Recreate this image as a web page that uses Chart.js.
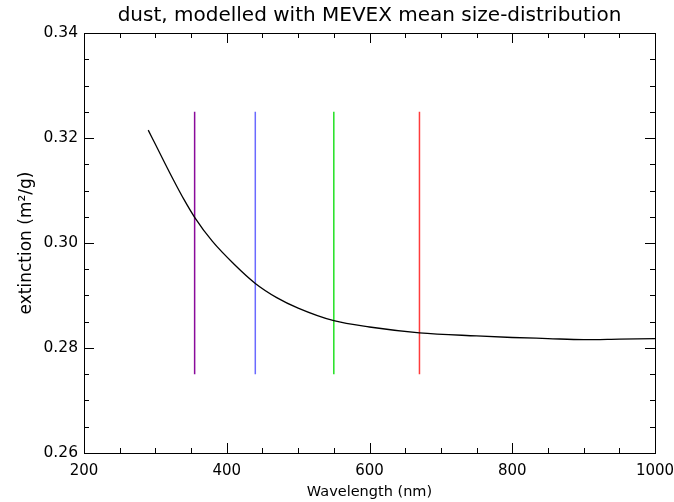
<!DOCTYPE html>
<html>
<head>
<meta charset="utf-8">
<script src="https://cdn.jsdelivr.net/npm/chart.js@4.4.0/dist/chart.umd.min.js"></script>
<style>
  html, body { margin: 0; padding: 0; background: #fff; }
  #wrap { width: 674px; height: 502px; }
</style>
</head>
<body>
<div id="wrap"><canvas id="extChart" width="674" height="502"></canvas></div>
<script>
// ---- data ----
const wavelengths = [290, 300, 310, 325, 340, 355, 380, 410, 440, 470, 500, 550, 600, 670, 750, 800, 850, 900, 950, 1000];
const extinction  = [0.3215, 0.3188, 0.3161, 0.3121, 0.3083, 0.3049, 0.3003, 0.2960, 0.2923, 0.2896, 0.2876, 0.2852, 0.2840, 0.2829, 0.2823, 0.2820, 0.2818, 0.2816, 0.2817, 0.2818];

const markerWavelengths = [355, 440, 550, 670];
const markerColors = ['#8a0a9a', '#6a6aff', '#22e022', '#ff3c3c'];
const markerRange = [0.275, 0.325];

const xTicks = [200, 400, 600, 800, 1000];
const yTicks = [0.26, 0.28, 0.30, 0.32, 0.34];

const FONT = 'DejaVu Sans';

// inward ticks on all four sides + frame
const frameTicks = {
    id: 'frameTicks',
    afterDraw(chart) {
        const { ctx, chartArea: a, scales: { x, y } } = chart;
        ctx.save();
        ctx.strokeStyle = '#000';
        ctx.lineWidth = 1;
        ctx.beginPath();
        for (let v = 200; v <= 1000; v += 50) {
            const px = Math.round(x.getPixelForValue(v)) + 0.5;
            const len = v % 200 === 0 ? 10 : 5;
            ctx.moveTo(px, a.bottom); ctx.lineTo(px, a.bottom - len);
            ctx.moveTo(px, a.top); ctx.lineTo(px, a.top + len);
        }
        for (let i = 0; i <= 16; i++) {
            const v = 0.26 + i * 0.005;
            const py = Math.round(y.getPixelForValue(v)) + 0.5;
            const len = i % 4 === 0 ? 10 : 5;
            ctx.moveTo(a.left, py); ctx.lineTo(a.left + len, py);
            ctx.moveTo(a.right, py); ctx.lineTo(a.right - len, py);
        }
        ctx.stroke();
        ctx.strokeRect(Math.round(a.left) + 0.5, Math.round(a.top) + 0.5,
            Math.round(a.right - a.left), Math.round(a.bottom - a.top));
        ctx.restore();
    }
};

const datasets = [{
    data: wavelengths.map((w, i) => ({ x: w, y: extinction[i] })),
    borderColor: '#000',
    borderWidth: 1.3,
    pointRadius: 0,
    cubicInterpolationMode: 'monotone'
}];
markerWavelengths.forEach((w, i) => {
    datasets.push({
        data: markerRange.map(v => ({ x: w, y: v })),
        borderColor: markerColors[i],
        borderWidth: 1.5,
        pointRadius: 0
    });
});

new Chart(document.getElementById('extChart'), {
    type: 'line',
    data: { datasets },
    plugins: [frameTicks],
    options: {
        responsive: false,
        animation: false,
        layout: { padding: { left: 0, right: 19, top: 0, bottom: 0 } },
        plugins: {
            legend: { display: false },
            tooltip: { enabled: false },
            title: {
                display: true,
                fullSize: false,
                text: 'dust, modelled with MEVEX mean size-distribution',
                color: '#000',
                font: { family: FONT, size: 20, weight: 'normal' },
                padding: { top: 4, bottom: 5 }
            }
        },
        scales: {
            x: {
                type: 'linear',
                min: 200, max: 1000,
                afterFit: s => { s.height = 49; s.paddingLeft = 0; s.paddingRight = 0; },
                afterBuildTicks: s => { s.ticks = xTicks.map(v => ({ value: v })); },
                grid: { display: false, drawTicks: false },
                border: { display: false },
                ticks: { color: '#000', padding: 9, maxRotation: 0, font: { family: FONT, size: 15 }, callback: v => String(v) },
                title: { display: true, text: 'Wavelength (nm)', color: '#000', padding: { top: 0, bottom: 1 }, font: { family: FONT, size: 14.5 } }
            },
            y: {
                type: 'linear',
                min: 0.26, max: 0.34,
                afterFit: s => { s.width = 84; s.paddingTop = 0; s.paddingBottom = 0; },
                afterBuildTicks: s => { s.ticks = yTicks.map(v => ({ value: v })); },
                grid: { display: false, drawTicks: false },
                border: { display: false },
                ticks: { color: '#000', padding: 6, font: { family: FONT, size: 15.5 }, callback: v => v.toFixed(2) },
                title: { display: true, text: 'extinction (m²/g)', color: '#000', padding: { top: 16, bottom: 0 }, font: { family: FONT, size: 17 } }
            }
        }
    }
});
</script>
</body>
</html>
